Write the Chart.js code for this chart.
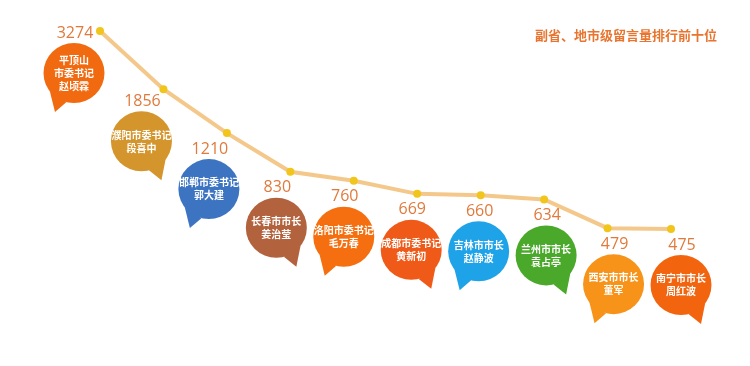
<!DOCTYPE html>
<html>
<head>
<meta charset="utf-8">
<script src="https://cdn.jsdelivr.net/npm/chart.js@4/dist/chart.umd.min.js"></script>
<style>
  html, body { margin: 0; padding: 0; background: #ffffff; }
  #wrap { width: 750px; height: 366px; position: relative; }
</style>
</head>
<body>
<div id="wrap"><canvas id="c" width="750" height="366"></canvas></div>
<script>
const titleText = '副省、地市级留言量排行前十位';
const cities = ['平顶山|市委书记|赵顷霖', '濮阳市委书记|段喜中', '邯郸市委书记|郭大建', '长春市市长|姜治莹', '洛阳市委书记|毛万春',
                '成都市委书记|黄新初', '吉林市市长|赵静波', '兰州市市长|袁占亭', '西安市市长|董军', '南宁市市长|周红波'];
const messageCounts = [3274, 1856, 1210, 830, 760, 669, 660, 634, 479, 475];
const bubbleColors = ['#f26a10', '#d4952c', '#3c74c2', '#b2623c', '#f56f10', '#ef5a18', '#1ea2e8', '#4aa82a', '#f79318', '#f2640e'];

const calloutPlugin = {
  id: 'callouts',
  afterDatasetsDraw(chart) {
    const ctx = chart.ctx;
    const meta = chart.getDatasetMeta(0);
    ctx.save();
    meta.data.forEach((pt, i) => {
      const cx = pt.x - 26 + 4 * i;
      const cy = pt.y + Math.min(56, 42 + 10 * i);
      const r = 30;
      const left = i % 2 === 0;
      ctx.fillStyle = bubbleColors[i];
      // tail
      ctx.beginPath();
      const a1 = left ? Math.PI * 0.58 : Math.PI * 0.42;
      const a2 = left ? Math.PI * 0.80 : Math.PI * 0.20;
      ctx.moveTo(cx + r * Math.cos(a1), cy + r * Math.sin(a1));
      ctx.lineTo(cx + (left ? -19 : 20), cy + 39);
      ctx.lineTo(cx + r * Math.cos(a2), cy + r * Math.sin(a2));
      ctx.closePath();
      ctx.fill();
      // body
      ctx.beginPath();
      ctx.ellipse(cx, cy, r + 0.5, r, 0, 0, Math.PI * 2);
      ctx.fill();
      // text
      const lines = cities[i].split('|');
      ctx.fillStyle = '#ffffff';
      ctx.font = 'bold 10px "Noto Sans CJK SC"';
      ctx.textAlign = 'center';
      ctx.textBaseline = 'middle';
      const lh = 13;
      lines.forEach((ln, k) => {
        ctx.fillText(ln, cx, cy + (k - (lines.length - 1) / 2) * lh);
      });
      // value label
      ctx.fillStyle = '#e07a3c';
      ctx.font = '16px "Open Sans"';
      ctx.fillText(String(messageCounts[i]), cx + 1, cy - r - 10);
    });
    // title
    ctx.fillStyle = '#e8752f';
    ctx.font = 'bold 13px "Noto Sans CJK SC"';
    ctx.textAlign = 'right';
    ctx.textBaseline = 'middle';
    ctx.fillText(titleText, 717, 35);
    ctx.restore();
  }
};

new Chart(document.getElementById('c'), {
  type: 'line',
  data: {
    labels: cities,
    datasets: [{
      data: messageCounts,
      borderColor: '#f4c88a',
      borderWidth: 4,
      pointBackgroundColor: '#f2c51c',
      pointBorderColor: '#f2c51c',
      pointRadius: 4,
      pointBorderWidth: 0,
      tension: 0,
      clip: false
    }]
  },
  options: {
    responsive: false,
    animation: false,
    events: [],
    layout: { padding: { left: 100, right: 79, top: 31, bottom: 137 } },
    plugins: { legend: { display: false }, tooltip: { enabled: false }, title: { display: false } },
    scales: {
      x: { type: 'category', display: false, offset: false },
      y: { type: 'logarithmic', display: false, min: 475, max: 3274, bounds: 'data' }
    }
  },
  plugins: [calloutPlugin]
});
</script>
</body>
</html>
